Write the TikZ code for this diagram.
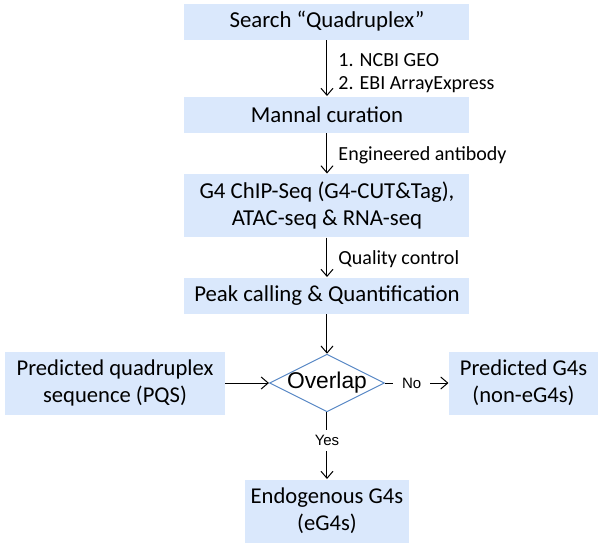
\documentclass[tikz,border=0pt]{standalone}
\usepackage{fontspec}
\setmainfont{Carlito}
\newfontfamily\arialfont{Liberation Sans}
\usetikzlibrary{shapes.geometric, arrows.meta, positioning}
\definecolor{boxblue}{HTML}{DAE8FC}
\definecolor{edgeblue}{HTML}{5B8AC6}

\begin{document}
\begin{tikzpicture}[x=0.5pt, y=-0.5pt, line width=0.5pt, >={Straight Barb[length=3.5pt, width=6pt]},
    stage/.style={fill=boxblue, minimum width=142.5pt, minimum height=18pt, inner sep=0pt, align=center, font=\fontsize{11.4}{13.4}\selectfont},
    result/.style={fill=boxblue, minimum height=31.5pt, inner sep=0pt, align=center, font=\fontsize{11.3}{13.5}\selectfont},
    decide/.style={draw=edgeblue, diamond, shape aspect=2, inner sep=-0.6pt, font=\arialfont\fontsize{11.4}{13}\selectfont},
    note/.style={right=5.5pt, yshift=-1pt, inner sep=0pt, align=left, font=\fontsize{10}{11.2}\selectfont},
    tag/.style={pos=0.42, fill=white, inner xsep=4.5pt, inner ysep=2.5pt, font=\arialfont\fontsize{7.5}{9}\selectfont}]
    \useasboundingbox (0,0) rectangle (602,547);
    \node[stage] (search) at (327,21.5) {Search “Quadruplex”};
    \node[stage] (curation) at (327,114.5) {Mannal curation};
    \node[stage, minimum height=31.5pt] (chip) at (327,205.5) {G4 ChIP-Seq (G4-CUT\&Tag),\\ATAC-seq \& RNA-seq};
    \node[stage] (peak) at (327,295.5) {Peak calling \& Quantification};
    \node[decide] (ovl) at (327,383) {Overlap};
    \node[result, minimum width=110pt] (pqs) at (115,383) {Predicted quadruplex\\sequence (PQS)};
    \node[result, minimum width=74.5pt] (pg4) at (523.5,383) {Predicted G4s\\(non-eG4s)};
    \node[result, minimum width=82pt] (endo) at (327,511) {Endogenous G4s\\(eG4s)};
    \draw[->] (search) -- node[note, yshift=-1.5pt]{1. NCBI GEO\\2. EBI ArrayExpress} (curation);
    \draw[->] (curation) -- node[note]{Engineered antibody} (chip);
    \draw[->] (chip) -- node[note]{Quality control} (peak);
    \draw[->] (peak) -- (ovl);
    \draw[->] (pqs) -- (ovl);
    \draw[->] (ovl) -- node[tag]{No} (pg4);
    \draw[->] (ovl) -- node[tag]{Yes} (endo);
\end{tikzpicture}
\end{document}
